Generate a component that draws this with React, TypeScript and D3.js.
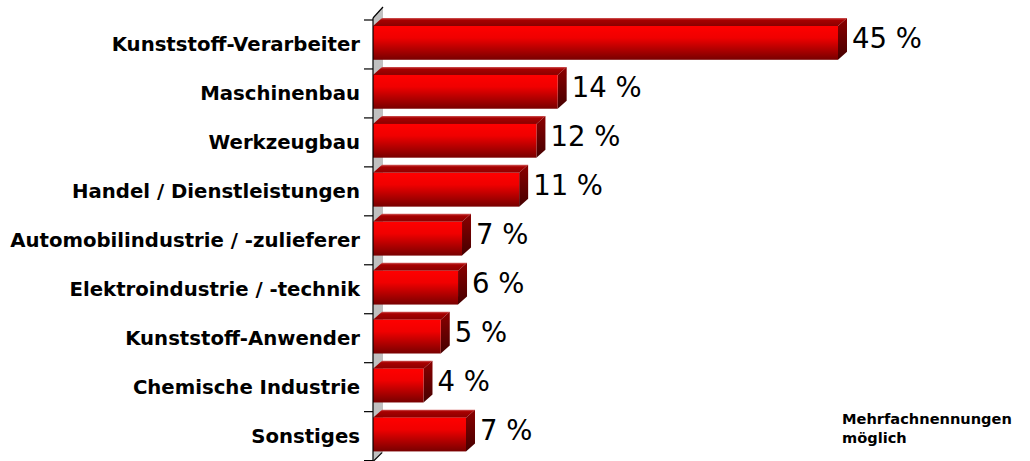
import React from 'react';
import * as d3 from 'd3';

// Branchen der Befragten (Mehrfachnennungen möglich)
const categories = [
  'Kunststoff-Verarbeiter',
  'Maschinenbau',
  'Werkzeugbau',
  'Handel / Dienstleistungen',
  'Automobilindustrie / -zulieferer',
  'Elektroindustrie / -technik',
  'Kunststoff-Anwender',
  'Chemische Industrie',
  'Sonstiges',
];
// Balkenlängen (Achse endet bei 35, der 45-%-Balken wird abgeschnitten)
const values = [45, 13.9, 12.3, 11.0, 6.7, 6.4, 5.1, 3.8, 7.0];
const valueLabels = ['45 %', '14 %', '12 %', '11 %', '7 %', '6 %', '5 %', '4 %', '7 %'];
const axisMax = 35;

const W = 1030;
const H = 461;
const x0 = 373;
const x1 = 838;
const plotTop = 20;
const plotBottom = 460.6;
const dx = 9; // Tiefe der 3D-Balken
const dy = 8;

export default function App() {
  const x = d3.scaleLinear().domain([0, axisMax]).range([x0, x1]).clamp(true);
  const y = d3.scaleBand<string>().domain(categories).range([plotTop, plotBottom]).padding(0);
  const bw = y.bandwidth();
  const barH = bw * 0.69;

  const boundaries = d3.range(categories.length + 1).map(i => plotTop + i * bw);

  return (
    <svg
      width={W}
      height={H}
      style={{ position: 'absolute', left: 0, top: 0, background: '#fff' }}
    >
      <defs>
        <linearGradient id="front" x1="0" y1="0" x2="0" y2="1">
          <stop offset="0" stopColor="#ff0000" />
          <stop offset="0.35" stopColor="#f00000" />
          <stop offset="1" stopColor="#780000" />
        </linearGradient>
        <linearGradient id="topface" x1="0" y1="0" x2="0" y2="1">
          <stop offset="0" stopColor="#d25a5a" />
          <stop offset="0.25" stopColor="#a80000" />
          <stop offset="1" stopColor="#8a0000" />
        </linearGradient>
        <linearGradient id="side" x1="0" y1="0" x2="0" y2="1">
          <stop offset="0" stopColor="#8c0000" />
          <stop offset="1" stopColor="#450000" />
        </linearGradient>
      </defs>

      {/* Rückwand */}
      <path
        d={`M${x0},${plotTop - 2} L${x0 + dx + 1},${plotTop - 13} L${x0 + dx + 1},${plotBottom - 8} L${x0},${plotBottom + 1} Z`}
        fill="#c0c0c0"
        stroke="none"
      />
      <path
        d={`M${x0},${plotTop - 2} L${x0 + dx + 1},${plotTop - 13}`}
        fill="none"
        stroke="#000"
        strokeWidth={1.2}
      />
      <path
        d={`M${x0},${plotBottom + 1} L${x0 + dx},${plotBottom - 8}`}
        fill="none"
        stroke="#000"
        strokeWidth={1.2}
      />

      {/* Balken */}
      {categories.map((c, i) => {
        const top = (y(c) as number) + 6;
        const bottom = top + barH;
        const xe = x(values[i]);
        return (
          <g key={c}>
            <path
              d={`M${x0},${top} L${x0 + dx},${top - dy} L${xe + dx},${top - dy} L${xe},${top} Z`}
              fill="url(#topface)"
            />
            <path
              d={`M${xe},${top} L${xe + dx},${top - dy} L${xe + dx},${bottom - dy} L${xe},${bottom} Z`}
              fill="url(#side)"
            />
            <rect x={x0} y={top} width={xe - x0} height={barH} fill="url(#front)" />
            <text
              x={xe + dx + 5}
              y={top + 22}
              fontFamily="'DejaVu Sans', Verdana, sans-serif"
              fontSize={27.5}
              fill="#000"
            >
              {valueLabels[i]}
            </text>
          </g>
        );
      })}

      {/* Kategorienachse */}
      <line x1={x0} x2={x0} y1={plotTop - 2} y2={plotBottom + 1} stroke="#000" strokeWidth={1.2} />
      {boundaries.map((b, i) => (
        <line key={i} x1={x0 - 9} x2={x0} y1={b} y2={b} stroke="#000" strokeWidth={1.2} />
      ))}
      {categories.map(c => (
        <text
          key={c}
          x={360}
          y={(y(c) as number) + bw / 2 + 7}
          textAnchor="end"
          fontFamily="'DejaVu Sans', Verdana, sans-serif"
          fontWeight="bold"
          fontSize={19.7}
          fill="#000"
        >
          {c}
        </text>
      ))}

      <text
        x={842}
        y={424}
        fontFamily="'DejaVu Sans', Verdana, sans-serif"
        fontWeight="bold"
        fontSize={14.6}
        fill="#000"
      >
        <tspan x={842}>Mehrfachnennungen</tspan>
        <tspan x={842} dy={19}>möglich</tspan>
      </text>
    </svg>
  );
}
